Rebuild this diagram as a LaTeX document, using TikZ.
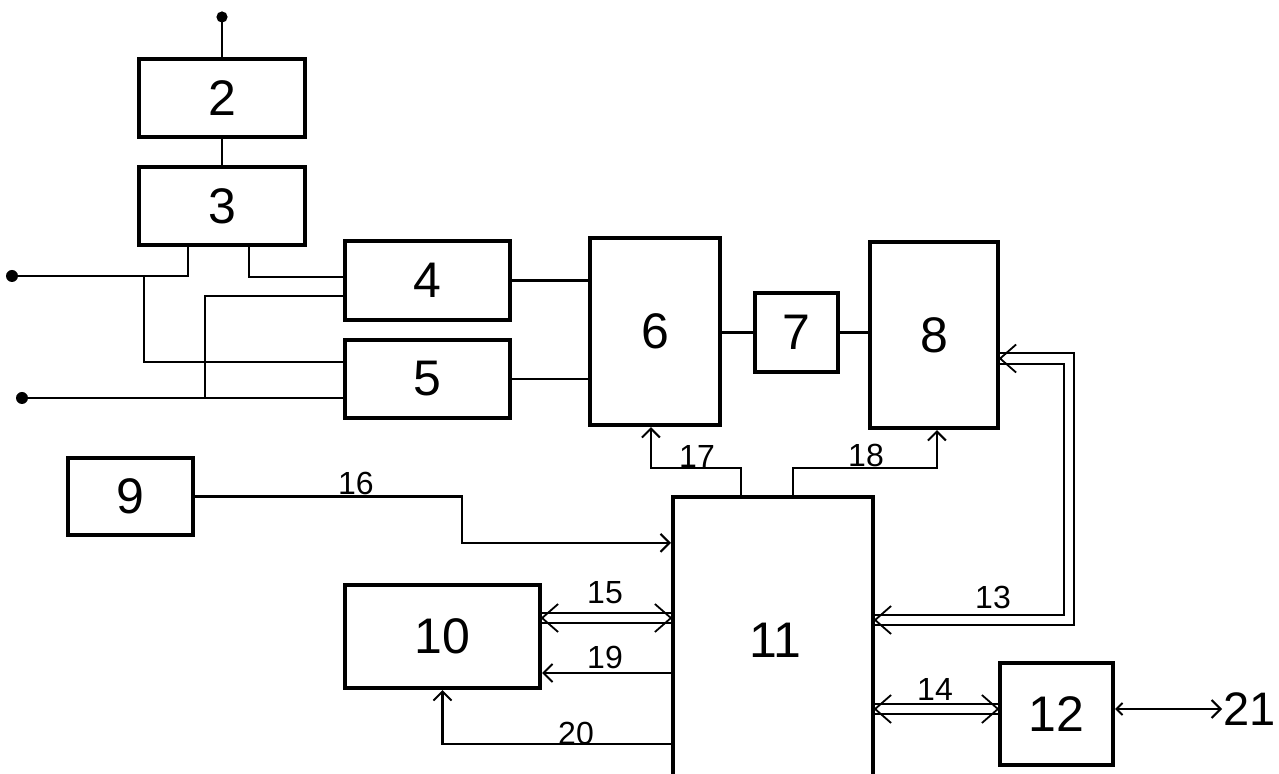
\documentclass[tikz,border=0pt]{standalone}
\usepackage{fontspec}
\setmainfont{Liberation Sans}
\usetikzlibrary{arrows.meta,calc}
\begin{document}
\begin{tikzpicture}[x=0.5pt,y=-0.5pt,
  blk/.style={draw, line width=2.1pt, inner sep=0pt, font=\fontsize{25}{28}\selectfont},
  wire/.style={line width=1.3pt},
  arr/.style={wire, -{Straight Barb[length=4.5pt,width=9pt,line width=1pt]}},
  biarr/.style={wire, {Straight Barb[length=3pt,width=6pt,line width=1pt]}-{Straight Barb[length=4.5pt,width=9pt,line width=1pt]}},
  dbl/.style={double, double distance=4.2pt, line width=1pt},
  lbl/.style={font=\fontsize{16}{18}\selectfont, inner sep=1pt},
  dhead/.pic={\draw[line width=0.9pt] (8pt,7pt) -- (0pt,0pt) -- (8pt,-7pt);}
]
\clip (0,0) rectangle (1279,774);
\fill[white] (0,0) rectangle (1279,774);
% blocks
\node[blk, minimum width=83pt, minimum height=39pt] (b2) at (222,98) {2};
\node[blk, minimum width=83pt, minimum height=39pt] (b3) at (222,206) {3};
\node[blk, minimum width=82.5pt, minimum height=39.5pt] (b4) at (427.5,280.5) {4};
\node[blk, minimum width=82.5pt, minimum height=39pt] (b5) at (427.5,379) {5};
\node[blk, minimum width=65pt, minimum height=93.5pt] (b6) at (655,331.5) {6};
\node[blk, minimum width=41.5pt, minimum height=39.5pt] (b7) at (796.5,332.5) {7};
\node[blk, minimum width=64pt, minimum height=93pt] (b8) at (934,335) {8};
\node[blk, minimum width=62.5pt, minimum height=38.5pt] (b9) at (130.5,496.5) {9};
\node[blk, minimum width=97.5pt, minimum height=51.5pt] (b10) at (442.5,636.5) {10};
\node[blk, minimum width=100pt, minimum height=146.5pt] (b11) at (773,643.5) {};
\node[font=\fontsize{25}{28}\selectfont] (t11) at (775,640) {11};
\node[blk, minimum width=56.5pt, minimum height=51pt] (b12) at (1056.5,714) {12};
\node[anchor=west, inner sep=0.5pt, font=\fontsize{23.5}{26}\selectfont] (t21) at (1222,709) {21};
% inputs
\coordinate (top) at (222,17);
\coordinate (in1) at (12,276);
\coordinate (in2) at (22,398);
\coordinate (j1) at (144,276);
\coordinate (j2) at (205,398);
\fill (top) circle (2.8pt);
\fill (in1) circle (3pt);
\fill (in2) circle (3pt);
\draw[wire] (top) -- (b2.north);
\draw[wire] (b2.south) -- (b3.north);
\draw[wire] (in1) -| ($(b3.south west)+(51,0)$);
\draw[wire] ($(b3.south west)+(112,0)$) |- ($(b4.west)+(0,-3.5)$);
\draw[wire] (j1) |- ($(b5.west)+(0,-17)$);
\draw[wire] (in2) -- ($(b5.west)+(0,19)$);
\draw[wire] (j2) |- ($(b4.west)+(0,15.5)$);
\draw[wire] (b4.east) -- (b4.east -| b6.west);
\draw[wire] (b5.east) -- (b5.east -| b6.west);
\draw[wire] (b7.west -| b6.east) -- (b7.west);
\draw[wire] (b7.east) -- (b7.east -| b8.west);
% 17, 18
\draw[arr] ($(b11.north west)+(70,0)$) -- ++(0,-27) -| ($(b6.south west)+(63,0)$);
\draw[arr] ($(b11.north west)+(122,0)$) -- ++(0,-27) -| ($(b8.south west)+(69,0)$);
\node[lbl] (l17) at (697,456) {17};
\node[lbl] (l18) at (866,455) {18};
% 16
\draw[arr] (b9.east) -| (462,521) |- ($(b11.north west)+(0,48)$);
\node[lbl] (l16) at (356,483) {16};
% 15
\coordinate (p15a) at ($(b10.east)+(0,-18.5)$);
\coordinate (p15b) at (p15a -| b11.west);
\draw[dbl] (p15a) -- (p15b);
\pic at (p15a) {dhead};
\pic[rotate=180] at (p15b) {dhead};
\node[lbl] (l15) at (605,593) {15};
% 19
\coordinate (p19) at ($(b10.east)+(0,36.5)$);
\draw[arr] (p19 -| b11.west) -- (p19);
\node[lbl] (l19) at (605,657) {19};
% 20
\draw[arr] ($(b11.west)+(0,100.5)$) -| (b10.south);
\node[lbl] (l20) at (576,733) {20};
% 13
\coordinate (p13a) at ($(b8.east)+(0,23.5)$);
\coordinate (p13b) at ($(b11.east)+(0,-23.5)$);
\coordinate (c13) at (1069,0);
\draw[dbl] (p13a) -| (c13 |- p13b) -- (p13b);
\pic at (p13a) {dhead};
\pic at (p13b) {dhead};
\node[lbl] (l13) at (993,597) {13};
% 14
\coordinate (p14a) at ($(b12.west)+(0,-5)$);
\coordinate (p14b) at (p14a -| b11.east);
\draw[dbl] (p14b) -- (p14a);
\pic at (p14b) {dhead};
\pic[rotate=180] at (p14a) {dhead};
\node[lbl] (l14) at (935,689) {14};
% 12 -> 21
\draw[biarr] (b12.east |- t21.west) -- (t21.west);
\end{tikzpicture}
\end{document}
